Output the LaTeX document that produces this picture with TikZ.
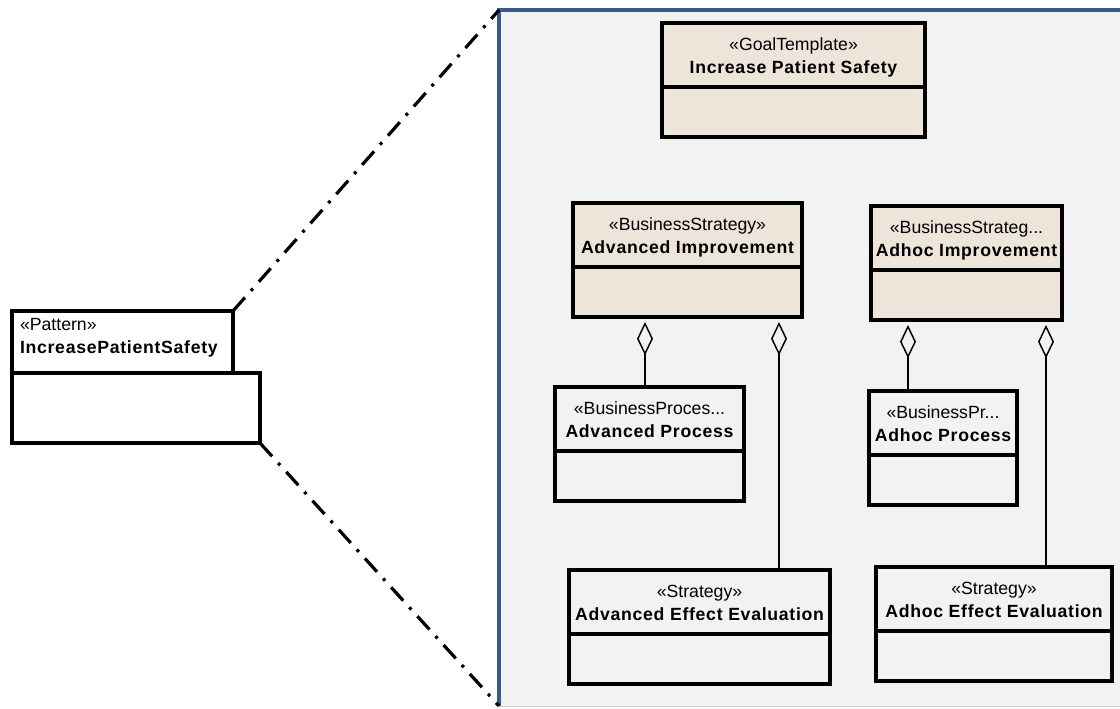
\documentclass[tikz,border=0pt]{standalone}
\usepackage{fontspec}
\setmainfont{Liberation Sans}
\newfontfamily\clsname[LetterSpace=4]{Liberation Sans}
\usetikzlibrary{arrows.meta,positioning}
\definecolor{FrameClr}{RGB}{59,89,138}
\definecolor{FrameFill}{RGB}{242,242,242}
\definecolor{ClassClr}{RGB}{238,229,218}
\newcommand{\clstext}[3][c]{\raisebox{-5.5pt}[0pt][0pt]{\begin{tabular}{@{}#1@{}}#2\\{\clsname\bfseries #3}\end{tabular}}}

\begin{document}
\begin{tikzpicture}[x=0.75pt,y=-0.75pt,
  head/.style={draw,line width=2.3pt,inner sep=0pt,outer sep=0pt,anchor=north west,
    minimum height=48pt,font=\fontsize{13.25}{17.25}\selectfont},
  body/.style={draw,line width=2.3pt,inner sep=0pt,outer sep=0pt,anchor=north west,
    minimum height=37.5pt},
  boxw/.style={minimum width=#1*0.75pt},
  aggr/.style={line width=1.1pt,-{Diamond[open,length=25pt,width=12pt]},shorten >=3.75pt},
  zoomline/.style={line width=2.4pt,dash pattern=on 13.5pt off 6.75pt on 2.25pt off 6.75pt}]
\useasboundingbox (0,0) rectangle (1120,708);

\node[fill=FrameFill,inner sep=0pt,outer sep=0pt,anchor=north west,boxw=630,
  minimum height=522pt] (zoomArea) at (499,10) {};
\draw[FrameClr!25] (zoomArea.south west) -- (zoomArea.south east);
\draw[FrameClr,line width=3pt] (zoomArea.south west) -- (zoomArea.north west) -- (zoomArea.north east);

\node[head,boxw=221,minimum height=46.5pt] (patternH) at (12,311)
  {\raisebox{0pt}[0pt][0pt]{\makebox[153.75pt][l]{\begin{tabular}{@{}l@{}}«Pattern»\\{\clsname\bfseries IncreasePatientSafety}\end{tabular}}}};
\node[body,boxw=248,minimum height=52.5pt] (pattern) at (patternH.south west) {};

\draw[zoomline] (patternH.north east) -- (zoomArea.north west);
\draw[zoomline] (pattern.south east) -- (zoomArea.south west);

\node[head,fill=ClassClr,boxw=263] (goalH) at (662,23)
  {\clstext{«GoalTemplate»}{Increase Patient Safety}};
\node[body,fill=ClassClr,boxw=263] (goal) at (goalH.south west) {};

\node[head,fill=ClassClr,boxw=229] (advImpH) at (573,203)
  {\clstext{«BusinessStrategy»}{Advanced Improvement}};
\node[body,fill=ClassClr,boxw=229] (advImp) at (advImpH.south west) {};

\node[head,fill=ClassClr,boxw=191] (adhImpH) at (871,206)
  {\clstext{«BusinessStrateg...}{Adhoc Improvement}};
\node[body,fill=ClassClr,boxw=191] (adhImp) at (adhImpH.south west) {};

\node[head,boxw=189] (advProcH) at (555,387)
  {\clstext{«BusinessProces...}{Advanced Process}};
\node[body,boxw=189] (advProc) at (advProcH.south west) {};

\node[head,boxw=148] (adhProcH) at (869,391)
  {\clstext{«BusinessPr...}{Adhoc Process}};
\node[body,boxw=148] (adhProc) at (adhProcH.south west) {};

\node[head,boxw=261] (advEvalH) at (569,570)
  {\clstext{«Strategy»}{Advanced Effect Evaluation}};
\node[body,boxw=261] (advEval) at (advEvalH.south west) {};

\node[head,boxw=236] (adhEvalH) at (876,567)
  {\clstext{«Strategy»}{Adhoc Effect Evaluation}};
\node[body,boxw=236] (adhEval) at (adhEvalH.south west) {};

\draw[aggr] (advProcH.north -| 645,0) -- (advImp.south -| 645,0);
\draw[aggr] (advEvalH.north -| 779,0) -- (advImp.south -| 779,0);
\draw[aggr] (adhProcH.north -| 908,0) -- (adhImp.south -| 908,0);
\draw[aggr] (adhEvalH.north -| 1046,0) -- (adhImp.south -| 1046,0);

\end{tikzpicture}
\end{document}
